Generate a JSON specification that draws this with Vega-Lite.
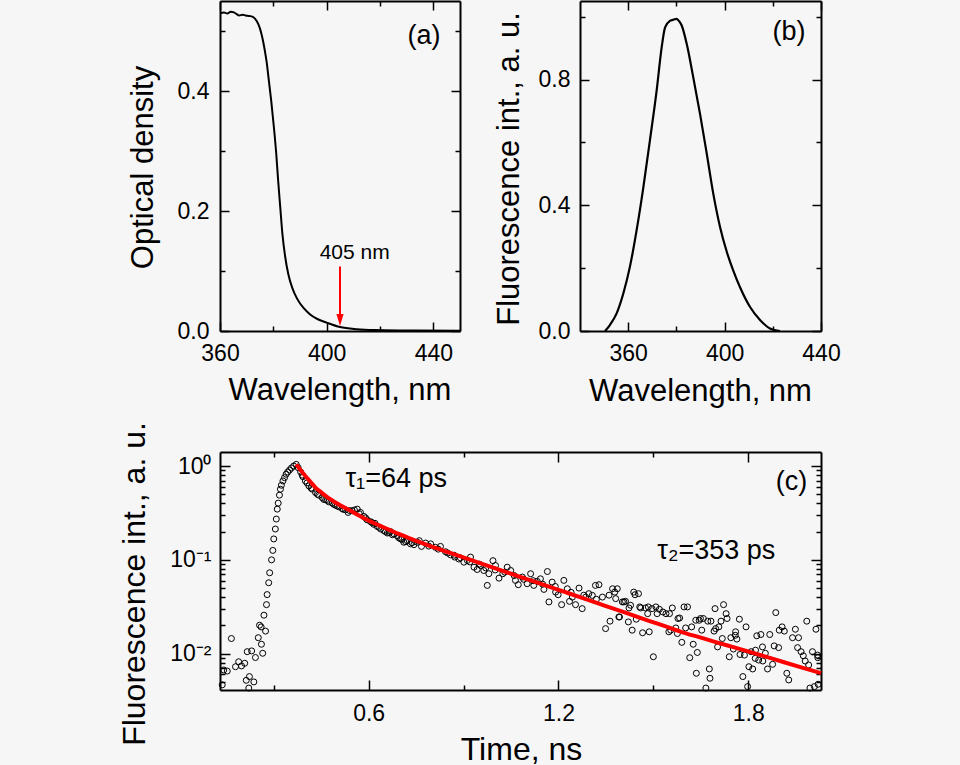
{
"$schema": "https://vega.github.io/schema/vega-lite/v6.json",
"autosize": {"type": "none"},
"padding": {"left": 220, "top": 1, "right": 740, "bottom": 764},
"background": "#f6f6f6",
"datasets": {
"abs": [{"wl":360,"od":0.530},{"wl":361.5,"od":0.531},{"wl":362.7,"od":0.529},{"wl":364,"od":0.532},{"wl":365.2,"od":0.531},{"wl":366.3,"od":0.528},{"wl":367.1,"od":0.526},{"wl":368.5,"od":0.527},{"wl":369.6,"od":0.526},{"wl":371,"od":0.525},{"wl":372.1,"od":0.524},{"wl":373,"od":0.521},{"wl":373.7,"od":0.517},{"wl":374.4,"od":0.511},{"wl":375.0,"od":0.504},{"wl":375.6,"od":0.494},{"wl":376.2,"od":0.482},{"wl":376.9,"od":0.465},{"wl":377.5,"od":0.448},{"wl":378.3,"od":0.418},{"wl":379.2,"od":0.384},{"wl":380.2,"od":0.340},{"wl":381.1,"od":0.295},{"wl":381.8,"od":0.251},{"wl":382.6,"od":0.206},{"wl":383.4,"od":0.162},{"wl":384.4,"od":0.125},{"wl":385.6,"od":0.095},{"wl":387.1,"od":0.072},{"wl":388.9,"od":0.054},{"wl":391.4,"od":0.038},{"wl":393.7,"od":0.028},{"wl":396.5,"od":0.020},{"wl":400,"od":0.014},{"wl":405,"od":0.0067},{"wl":411.3,"od":0.003},{"wl":418,"od":0.0015},{"wl":430,"od":0.0008},{"wl":450,"od":0.0003}],
"fl": [{"wl":350.4,"fi":0},{"wl":352.4,"fi":0.019},{"wl":355.2,"fi":0.056},{"wl":358.0,"fi":0.120},{"wl":360.7,"fi":0.204},{"wl":363.5,"fi":0.321},{"wl":366.3,"fi":0.458},{"wl":369.0,"fi":0.606},{"wl":371.8,"fi":0.765},{"wl":373.9,"fi":0.903},{"wl":375.3,"fi":0.966},{"wl":377.3,"fi":0.987},{"wl":378.5,"fi":0.99},{"wl":380.1,"fi":0.993},{"wl":381.2,"fi":0.985},{"wl":382.2,"fi":0.972},{"wl":384.3,"fi":0.913},{"wl":387.0,"fi":0.807},{"wl":389.8,"fi":0.691},{"wl":392.6,"fi":0.564},{"wl":395.3,"fi":0.437},{"wl":398.1,"fi":0.331},{"wl":400.9,"fi":0.252},{"wl":403.6,"fi":0.192},{"wl":406.4,"fi":0.139},{"wl":410.5,"fi":0.077},{"wl":414.7,"fi":0.035},{"wl":418.8,"fi":0.008},{"wl":423.0,"fi":0}],
"fit": [{"t":0.371,"v":1.04},{"t":0.385,"v":0.90},{"t":0.400,"v":0.783},{"t":0.416,"v":0.68},{"t":0.432,"v":0.589},{"t":0.448,"v":0.53},{"t":0.464,"v":0.481},{"t":0.480,"v":0.44},{"t":0.495,"v":0.408},{"t":0.516,"v":0.372},{"t":0.537,"v":0.341},{"t":0.563,"v":0.305},{"t":0.590,"v":0.272},{"t":0.616,"v":0.247},{"t":0.643,"v":0.225},{"t":0.669,"v":0.206},{"t":0.695,"v":0.189},{"t":0.722,"v":0.174},{"t":0.748,"v":0.160},{"t":0.800,"v":0.138},{"t":0.853,"v":0.120},{"t":0.906,"v":0.1042},{"t":0.959,"v":0.0906},{"t":1.012,"v":0.0787},{"t":1.064,"v":0.0685},{"t":1.117,"v":0.0596},{"t":1.170,"v":0.0518},{"t":1.222,"v":0.0452},{"t":1.275,"v":0.0393},{"t":1.33,"v":0.0339},{"t":1.381,"v":0.0296},{"t":1.434,"v":0.0258},{"t":1.486,"v":0.0224},{"t":1.539,"v":0.0195},{"t":1.592,"v":0.0169},{"t":1.645,"v":0.0150},{"t":1.697,"v":0.0133},{"t":1.750,"v":0.0118},{"t":1.802,"v":0.0105},{"t":1.855,"v":0.0093},{"t":1.908,"v":0.0082},{"t":1.97,"v":0.0071},{"t":2.03,"v":0.0062}],
"decay": [{"t":0.137,"v":0.00465},{"t":0.142,"v":0.0067},{"t":0.153,"v":0.00653},{"t":0.166,"v":0.0145},{"t":0.179,"v":0.00726},{"t":0.189,"v":0.0082},{"t":0.198,"v":0.0074},{"t":0.208,"v":0.0079},{"t":0.213,"v":0.0052},{"t":0.216,"v":0.0105},{"t":0.221,"v":0.0043},{"t":0.223,"v":0.0057},{"t":0.230,"v":0.0107},{"t":0.237,"v":0.0050},{"t":0.242,"v":0.0091},{"t":0.251,"v":0.0148},{"t":0.255,"v":0.0201},{"t":0.260,"v":0.0193},{"t":0.261,"v":0.0126},{"t":0.265,"v":0.0101},{"t":0.269,"v":0.0257},{"t":0.274,"v":0.0174},{"t":0.277,"v":0.0333},{"t":0.279,"v":0.0426},{"t":0.284,"v":0.057},{"t":0.287,"v":0.0728},{"t":0.293,"v":0.100},{"t":0.297,"v":0.126},{"t":0.300,"v":0.167},{"t":0.305,"v":0.213},{"t":0.308,"v":0.272},{"t":0.311,"v":0.347},{"t":0.314,"v":0.402},{"t":0.318,"v":0.489},{"t":0.321,"v":0.566},{"t":0.324,"v":0.624},{"t":0.329,"v":0.693},{"t":0.334,"v":0.751},{"t":0.339,"v":0.817},{"t":0.344,"v":0.863},{"t":0.350,"v":0.907},{"t":0.356,"v":0.953},{"t":0.363,"v":1.0},{"t":0.371,"v":1.04},
{"t":0.377,"v":0.96},{"t":0.385,"v":0.863},{"t":0.392,"v":0.77},{"t":0.400,"v":0.693},{"t":0.411,"v":0.614},{"t":0.422,"v":0.566},{"t":0.432,"v":0.521},{"t":0.442,"v":0.489},{"t":0.453,"v":0.461},{"t":0.464,"v":0.436},{"t":0.474,"v":0.415},{"t":0.485,"v":0.402},{"t":0.495,"v":0.383},{"t":0.506,"v":0.367},{"t":0.516,"v":0.352},{"t":0.527,"v":0.341},{"t":0.535,"v":0.32},{"t":0.548,"v":0.333},{"t":0.564,"v":0.347},{"t":0.574,"v":0.32},{"t":0.585,"v":0.29},{"t":0.595,"v":0.267},{"t":0.606,"v":0.255},{"t":0.616,"v":0.239},{"t":0.627,"v":0.227},{"t":0.638,"v":0.213},{"t":0.648,"v":0.205},{"t":0.659,"v":0.193},{"t":0.669,"v":0.2},{"t":0.680,"v":0.189},{"t":0.690,"v":0.181},{"t":0.701,"v":0.167},{"t":0.711,"v":0.154},{"t":0.722,"v":0.160},{"t":0.732,"v":0.148},{"t":0.743,"v":0.145},
{"t":0.39,"v":0.80},{"t":0.405,"v":0.66},{"t":0.418,"v":0.58},{"t":0.438,"v":0.50},{"t":0.458,"v":0.44},{"t":0.47,"v":0.43},{"t":0.49,"v":0.39},{"t":0.50,"v":0.375},{"t":0.52,"v":0.345},{"t":0.54,"v":0.335},{"t":0.555,"v":0.34},{"t":0.57,"v":0.31},{"t":0.59,"v":0.28},{"t":0.61,"v":0.25},{"t":0.62,"v":0.245},{"t":0.633,"v":0.222},{"t":0.653,"v":0.20},{"t":0.665,"v":0.195},{"t":0.675,"v":0.185},{"t":0.695,"v":0.172},{"t":0.705,"v":0.165},{"t":0.717,"v":0.156},{"t":0.737,"v":0.152},
{"t":0.754,"v":0.154},{"t":0.767,"v":0.139},{"t":0.780,"v":0.151},{"t":0.796,"v":0.148},{"t":0.811,"v":0.136},{"t":0.827,"v":0.139},{"t":0.843,"v":0.122},{"t":0.859,"v":0.113},{"t":0.872,"v":0.107},{"t":0.885,"v":0.102},{"t":0.901,"v":0.0944},{"t":0.912,"v":0.0984},{"t":0.922,"v":0.107},{"t":0.933,"v":0.0835},{"t":0.943,"v":0.0789},{"t":0.954,"v":0.087},{"t":0.964,"v":0.077},{"t":0.975,"v":0.0534},{"t":0.980,"v":0.0711},{"t":0.993,"v":0.098},{"t":1.001,"v":0.087},{"t":1.012,"v":0.0638},{"t":1.024,"v":0.0711},{"t":1.038,"v":0.0835},{"t":1.049,"v":0.077},{"t":1.064,"v":0.0604},{"t":1.073,"v":0.0543},{"t":1.086,"v":0.0655},{"t":1.101,"v":0.0557},{"t":1.112,"v":0.0711},{"t":1.122,"v":0.0534},{"t":1.133,"v":0.0589},{"t":1.143,"v":0.0628},{"t":1.154,"v":0.0484},{"t":1.165,"v":0.0751},{"t":1.170,"v":0.0356},{"t":1.180,"v":0.0579},{"t":1.191,"v":0.0453},{"t":1.199,"v":0.0425},{"t":1.210,"v":0.0333},{"t":1.217,"v":0.0604},{"t":1.228,"v":0.0492},{"t":1.235,"v":0.0361},{"t":1.244,"v":0.0401},{"t":1.254,"v":0.0333},{"t":1.265,"v":0.050},{"t":1.275,"v":0.0302},{"t":1.286,"v":0.0401},{"t":1.296,"v":0.0436},{"t":1.307,"v":0.0418},{"t":1.317,"v":0.0534},{"t":1.328,"v":0.0543},{"t":1.339,"v":0.0401},{"t":1.349,"v":0.0185},{"t":1.363,"v":0.0222},{"t":1.371,"v":0.0492},{"t":1.381,"v":0.0386},{"t":1.391,"v":0.0246},
{"t":0.76,"v":0.16},{"t":0.79,"v":0.14},{"t":0.82,"v":0.13},{"t":0.85,"v":0.118},{"t":0.87,"v":0.112},{"t":0.89,"v":0.105},{"t":0.92,"v":0.095},{"t":0.95,"v":0.09},{"t":0.97,"v":0.082},{"t":1.0,"v":0.078},{"t":1.03,"v":0.074},{"t":1.06,"v":0.068},{"t":1.09,"v":0.062},{"t":1.12,"v":0.06},{"t":1.15,"v":0.055},{"t":1.19,"v":0.052},{"t":1.24,"v":0.045},{"t":1.28,"v":0.042},{"t":1.32,"v":0.038},{"t":1.36,"v":0.042},
{"t":1.378,"v":0.0453},{"t":1.386,"v":0.0492},{"t":1.393,"v":0.0246},{"t":1.402,"v":0.0356},{"t":1.407,"v":0.0356},{"t":1.412,"v":0.0361},{"t":1.421,"v":0.0218},{"t":1.423,"v":0.0307},{"t":1.428,"v":0.0328},{"t":1.433,"v":0.0178},{"t":1.438,"v":0.0453},{"t":1.442,"v":0.0425},{"t":1.446,"v":0.0233},{"t":1.453,"v":0.0436},{"t":1.457,"v":0.0315},{"t":1.460,"v":0.0307},{"t":1.466,"v":0.0167},{"t":1.475,"v":0.0307},{"t":1.482,"v":0.0267},{"t":1.484,"v":0.0315},{"t":1.487,"v":0.0171},{"t":1.496,"v":0.0302},{"t":1.500,"v":0.00927},{"t":1.508,"v":0.0315},{"t":1.512,"v":0.0267},{"t":1.519,"v":0.0297},{"t":1.530,"v":0.0278},{"t":1.540,"v":0.0267},{"t":1.549,"v":0.0171},{"t":1.551,"v":0.0267},{"t":1.555,"v":0.0178},{"t":1.560,"v":0.0307},{"t":1.571,"v":0.0188},{"t":1.576,"v":0.0164},{"t":1.578,"v":0.0237},{"t":1.583,"v":0.024},{"t":1.590,"v":0.0132},{"t":1.597,"v":0.0315},{"t":1.602,"v":0.0188},{"t":1.608,"v":0.0315},{"t":1.615,"v":0.00906},{"t":1.621,"v":0.0193},{"t":1.626,"v":0.0126},{"t":1.634,"v":0.0227},{"t":1.636,"v":0.00618},{"t":1.639,"v":0.0103},{"t":1.645,"v":0.0227},{"t":1.649,"v":0.0237},{"t":1.653,"v":0.0178},{"t":1.658,"v":0.0237},{"t":1.666,"v":0.0043},{"t":1.672,"v":0.0222},{"t":1.677,"v":0.00687},{"t":1.679,"v":0.00547},{"t":1.682,"v":0.0222},{"t":1.692,"v":0.0174},{"t":1.695,"v":0.0302},{"t":1.697,"v":0.0185},{"t":1.703,"v":0.0118},{"t":1.707,"v":0.0193},{"t":1.714,"v":0.0222},{"t":1.718,"v":0.0145},{"t":1.722,"v":0.0333},{"t":1.730,"v":0.0267},{"t":1.733,"v":0.0237},{"t":1.740,"v":0.00927},{"t":1.745,"v":0.0148},{"t":1.753,"v":0.0112},{"t":1.759,"v":0.0157},{"t":1.760,"v":0.0171},{"t":1.764,"v":0.0143},{"t":1.772,"v":0.0233},{"t":1.774,"v":0.0098},{"t":1.783,"v":0.0057},{"t":1.788,"v":0.00966},{"t":1.793,"v":0.0193},{"t":1.798,"v":0.00446},{"t":1.802,"v":0.00726},{"t":1.809,"v":0.0105},{"t":1.814,"v":0.00687},{"t":1.822,"v":0.00891},{"t":1.823,"v":0.0109},{"t":1.827,"v":0.0155},{"t":1.833,"v":0.00855},{"t":1.840,"v":0.016},{"t":1.845,"v":0.0118},{"t":1.846,"v":0.00835},{"t":1.854,"v":0.0101},{"t":1.861,"v":0.00687},{"t":1.868,"v":0.016},{"t":1.877,"v":0.0077},{"t":1.882,"v":0.0121},{"t":1.887,"v":0.0274},{"t":1.896,"v":0.0116},{"t":1.898,"v":0.0178},{"t":1.907,"v":0.0193},{"t":1.914,"v":0.0174},{"t":1.922,"v":0.00618},{"t":1.928,"v":0.00525},{"t":1.940,"v":0.0148},{"t":1.949,"v":0.0182},{"t":1.956,"v":0.0116},{"t":1.959,"v":0.0148},{"t":1.967,"v":0.0105},{"t":1.974,"v":0.0095},{"t":1.980,"v":0.00835},{"t":1.985,"v":0.0222},{"t":1.991,"v":0.00757},{"t":1.995,"v":0.0043},{"t":2.003,"v":0.0105},{"t":2.009,"v":0.00446},{"t":2.014,"v":0.0182},{"t":2.019,"v":0.00966},{"t":2.021,"v":0.00472},{"t":2.02,"v":0.00906}]
},
"columns": 2,
"spacing": {"row": 121, "column": 120},
"bounds": "flush",
"align": "each",
"concat": [
{
"width": 240, "height": 330,
"resolve": {"axis": {"x": "independent", "y": "independent"}},
"layer": [
{"data": {"name": "abs"},
 "mark": {"type": "line", "color": "black", "strokeWidth": 2, "interpolate": "monotone", "clip": true},
 "encoding": {
  "x": {"field": "wl", "type": "quantitative", "scale": {"domain": [360, 450], "nice": false, "zero": false},
   "axis": {"orient": "bottom", "values": [360, 400, 440], "format": "d", "ticks": false, "labelPadding": 29, "labelBaseline": "alphabetic", "title": "Wavelength, nm", "titleX": 119.5, "titleY": 68, "titleBaseline": "alphabetic", "titleAlign": "center", "titleFontSize": 31}},
  "y": {"field": "od", "type": "quantitative", "scale": {"domain": [0, 0.55], "nice": false, "zero": false},
   "axis": {"orient": "left", "values": [0, 0.2, 0.4], "format": ".1f", "ticks": false, "labelPadding": 11, "title": "Optical density", "titleX": -68, "titleY": 166, "titleAngle": 270, "titleBaseline": "alphabetic", "titleAlign": "center", "titleFontSize": 31}}
 }},
{"data": {"name": "abs"},
 "mark": {"type": "line", "opacity": 0},
 "encoding": {
  "x": {"field": "wl", "type": "quantitative", "scale": {"domain": [360, 450], "nice": false, "zero": false},
   "axis": {"orient": "bottom", "values": [360, 380, 400, 420, 440], "labels": false, "domain": false, "title": null, "tickSize": {"condition": {"test": "datum.value % 40 == 0", "value": -9}, "value": -5}}},
  "y": {"field": "od", "type": "quantitative", "scale": {"domain": [0, 0.55], "nice": false, "zero": false},
   "axis": {"orient": "left", "values": [0, 0.1, 0.2, 0.3, 0.4, 0.5], "labels": false, "domain": false, "title": null, "tickSize": {"condition": {"test": "round(datum.value*10) % 2 == 0", "value": -9}, "value": -5}}}
 }},
{"data": {"name": "abs"},
 "mark": {"type": "line", "opacity": 0},
 "encoding": {
  "x": {"field": "wl", "type": "quantitative", "scale": {"domain": [360, 450], "nice": false, "zero": false},
   "axis": {"orient": "top", "values": [360, 380, 400, 420, 440], "labels": false, "title": null, "tickSize": {"condition": {"test": "datum.value % 40 == 0", "value": -9}, "value": -5}}},
  "y": {"field": "od", "type": "quantitative", "scale": {"domain": [0, 0.55], "nice": false, "zero": false},
   "axis": {"orient": "right", "values": [0, 0.1, 0.2, 0.3, 0.4, 0.5], "labels": false, "title": null, "tickSize": {"condition": {"test": "round(datum.value*10) % 2 == 0", "value": -9}, "value": -5}}}
 }},
{"data": {"values": [{"wl": 405, "y1": 0.1075, "y2": 0.02}]},
 "mark": {"type": "rule", "color": "#ff0000", "strokeWidth": 2},
 "encoding": {
  "x": {"field": "wl", "type": "quantitative", "axis": null},
  "y": {"field": "y1", "type": "quantitative", "axis": null},
  "y2": {"field": "y2"}
 }},
{"data": {"values": [{"wl": 405, "y": 0.0183}]},
 "mark": {"type": "point", "shape": "M-0.6,-1L0.6,-1L0,1Z", "filled": true, "color": "#ff0000", "size": 144, "opacity": 1},
 "encoding": {
  "x": {"field": "wl", "type": "quantitative", "axis": null},
  "y": {"field": "y", "type": "quantitative", "axis": null}
 }},
{"data": {"values": [{"wl": 410.5, "y": 0.1195, "label": "405 nm"}]},
 "mark": {"type": "text", "font": "Liberation Sans", "fontSize": 21, "color": "black", "align": "center", "baseline": "alphabetic"},
 "encoding": {
  "x": {"field": "wl", "type": "quantitative", "axis": null},
  "y": {"field": "y", "type": "quantitative", "axis": null},
  "text": {"field": "label"}
 }},
{"data": {"values": [{"wl": 436.5, "y": 0.4917, "label": "(a)"}]},
 "mark": {"type": "text", "font": "Liberation Sans", "fontSize": 27, "color": "black", "align": "center", "baseline": "middle"},
 "encoding": {
  "x": {"field": "wl", "type": "quantitative", "axis": null},
  "y": {"field": "y", "type": "quantitative", "axis": null},
  "text": {"field": "label"}
 }}
]
},
{
"width": 241, "height": 330,
"resolve": {"axis": {"x": "independent", "y": "independent"}},
"layer": [
{"data": {"name": "fl"},
 "mark": {"type": "line", "color": "black", "strokeWidth": 2.2, "interpolate": "monotone", "clip": true},
 "encoding": {
  "x": {"field": "wl", "type": "quantitative", "scale": {"domain": [340, 440], "nice": false, "zero": false},
   "axis": {"orient": "bottom", "values": [360, 400, 440], "format": "d", "ticks": false, "labelPadding": 29, "labelBaseline": "alphabetic", "title": "Wavelength, nm", "titleX": 120, "titleY": 69, "titleBaseline": "alphabetic", "titleAlign": "center", "titleFontSize": 31}},
  "y": {"field": "fi", "type": "quantitative", "scale": {"domain": [0, 1.05], "nice": false, "zero": false},
   "axis": {"orient": "left", "values": [0, 0.4, 0.8], "format": ".1f", "ticks": false, "labelPadding": 10, "title": "Fluorescence int., a. u.", "titleX": -62, "titleY": 167.5, "titleAngle": 270, "titleBaseline": "alphabetic", "titleAlign": "center", "titleFontSize": 31}}
 }},
{"data": {"name": "fl"},
 "mark": {"type": "line", "opacity": 0},
 "encoding": {
  "x": {"field": "wl", "type": "quantitative", "scale": {"domain": [340, 440], "nice": false, "zero": false},
   "axis": {"orient": "bottom", "values": [360, 380, 400, 420, 440], "labels": false, "domain": false, "title": null, "tickSize": {"condition": {"test": "datum.value % 40 == 0", "value": -9}, "value": -5}}},
  "y": {"field": "fi", "type": "quantitative", "scale": {"domain": [0, 1.05], "nice": false, "zero": false},
   "axis": {"orient": "left", "values": [0, 0.2, 0.4, 0.6, 0.8, 1.0], "labels": false, "domain": false, "title": null, "tickSize": {"condition": {"test": "round(datum.value*10) % 4 == 0", "value": -9}, "value": -5}}}
 }},
{"data": {"name": "fl"},
 "mark": {"type": "line", "opacity": 0},
 "encoding": {
  "x": {"field": "wl", "type": "quantitative", "scale": {"domain": [340, 440], "nice": false, "zero": false},
   "axis": {"orient": "top", "values": [360, 380, 400, 420, 440], "labels": false, "title": null, "tickSize": {"condition": {"test": "datum.value % 40 == 0", "value": -9}, "value": -5}}},
  "y": {"field": "fi", "type": "quantitative", "scale": {"domain": [0, 1.05], "nice": false, "zero": false},
   "axis": {"orient": "right", "values": [0, 0.2, 0.4, 0.6, 0.8, 1.0], "labels": false, "title": null, "tickSize": {"condition": {"test": "round(datum.value*10) % 4 == 0", "value": -9}, "value": -5}}}
 }},
{"data": {"values": [{"wl": 426.7, "y": 0.952, "label": "(b)"}]},
 "mark": {"type": "text", "font": "Liberation Sans", "fontSize": 27, "color": "black", "align": "center", "baseline": "middle"},
 "encoding": {
  "x": {"field": "wl", "type": "quantitative", "axis": null},
  "y": {"field": "y", "type": "quantitative", "axis": null},
  "text": {"field": "label"}
 }}
]
},
{
"width": 240, "height": 238,
"resolve": {"axis": {"x": "independent", "y": "independent"}},
"layer": [
{"data": {"name": "decay"},
 "mark": {"type": "point", "shape": "circle", "filled": false, "stroke": "black", "strokeWidth": 1, "size": 36, "opacity": 1},
 "encoding": {
  "x": {"field": "t", "type": "quantitative", "scale": {"domain": [0.13, 2.03], "nice": false, "zero": false, "range": [0, 601]},
   "axis": {"orient": "bottom", "values": [0.6, 1.2, 1.8], "format": ".1f", "ticks": false, "labelPadding": 30, "labelBaseline": "alphabetic", "title": "Time, ns", "titleX": 301, "titleY": 69, "titleBaseline": "alphabetic", "titleAlign": "center", "titleFontSize": 32}},
  "y": {"field": "v", "type": "quantitative", "scale": {"type": "log", "domain": [0.0041, 1.41], "nice": false},
   "axis": {"orient": "left", "values": [0.01, 0.1, 1], "labelExpr": "datum.value > 0.5 ? '10⁰' : (datum.value > 0.05 ? '10⁻¹' : '10⁻²')", "ticks": false, "labelPadding": 9, "title": "Fluorescence int., a. u.", "titleX": -76, "titleY": 131.5, "titleAngle": 270, "titleBaseline": "alphabetic", "titleAlign": "center", "titleFontSize": 32}}
 }},
{"data": {"name": "fit"},
 "mark": {"type": "line", "color": "#ff0000", "strokeWidth": 4, "interpolate": "monotone"},
 "encoding": {
  "x": {"field": "t", "type": "quantitative", "scale": {"domain": [0.13, 2.03], "nice": false, "zero": false, "range": [0, 601]}, "axis": null},
  "y": {"field": "v", "type": "quantitative", "scale": {"type": "log", "domain": [0.0041, 1.41], "nice": false}, "axis": null}
 }},
{"data": {"name": "fit"},
 "mark": {"type": "line", "opacity": 0},
 "encoding": {
  "x": {"field": "t", "type": "quantitative", "scale": {"domain": [0.13, 2.03], "nice": false, "zero": false, "range": [0, 601]},
   "axis": {"orient": "bottom", "values": [0.3, 0.6, 0.9, 1.2, 1.5, 1.8], "labels": false, "domain": false, "title": null, "tickSize": {"condition": {"test": "abs(datum.value/0.6 - round(datum.value/0.6)) < 0.01", "value": -10}, "value": -5}}},
  "y": {"field": "v", "type": "quantitative", "scale": {"type": "log", "domain": [0.0041, 1.41], "nice": false},
   "axis": {"orient": "left", "values": [0.005, 0.006, 0.007, 0.008, 0.009, 0.01, 0.02, 0.03, 0.04, 0.05, 0.06, 0.07, 0.08, 0.09, 0.1, 0.2, 0.3, 0.4, 0.5, 0.6, 0.7, 0.8, 0.9, 1], "labels": false, "domain": false, "title": null, "tickSize": {"condition": {"test": "abs(log(datum.value)/LN10 - round(log(datum.value)/LN10)) < 0.01", "value": -10}, "value": -5}}}
 }},
{"data": {"name": "fit"},
 "mark": {"type": "line", "opacity": 0},
 "encoding": {
  "x": {"field": "t", "type": "quantitative", "scale": {"domain": [0.13, 2.03], "nice": false, "zero": false, "range": [0, 601]},
   "axis": {"orient": "top", "values": [0.3, 0.6, 0.9, 1.2, 1.5, 1.8], "labels": false, "title": null, "tickSize": {"condition": {"test": "abs(datum.value/0.6 - round(datum.value/0.6)) < 0.01", "value": -10}, "value": -5}}},
  "y": {"field": "v", "type": "quantitative", "scale": {"type": "log", "domain": [0.0041, 1.41], "nice": false},
   "axis": {"orient": "right", "offset": 361, "values": [0.005, 0.006, 0.007, 0.008, 0.009, 0.01, 0.02, 0.03, 0.04, 0.05, 0.06, 0.07, 0.08, 0.09, 0.1, 0.2, 0.3, 0.4, 0.5, 0.6, 0.7, 0.8, 0.9, 1], "labels": false, "title": null, "tickSize": {"condition": {"test": "abs(log(datum.value)/LN10 - round(log(datum.value)/LN10)) < 0.01", "value": -10}, "value": -5}}}
 }},
{"data": {"values": [{"t": 0.687, "v": 0.723, "label": "τ₁=64 ps"}, {"t": 1.699, "v": 0.123, "label": "τ₂=353 ps"}, {"t": 1.937, "v": 0.668, "label": "(c)"}]},
 "mark": {"type": "text", "font": "Liberation Sans", "fontSize": 27, "color": "black", "align": "center", "baseline": "middle"},
 "encoding": {
  "x": {"field": "t", "type": "quantitative", "scale": {"domain": [0.13, 2.03], "nice": false, "zero": false, "range": [0, 601]}, "axis": null},
  "y": {"field": "v", "type": "quantitative", "scale": {"type": "log", "domain": [0.0041, 1.41], "nice": false}, "axis": null},
  "text": {"field": "label"}
 }}
]
}
],
"config": {
 "view": {"stroke": null},
 "axis": {"domainColor": "black", "domainWidth": 2, "tickColor": "black", "tickWidth": 1.5, "labelFont": "Liberation Sans", "labelFontSize": 23, "labelColor": "black", "titleFont": "Liberation Sans", "titleColor": "black", "titleFontWeight": "normal", "grid": false, "labelFlush": false, "labelOverlap": false, "labelBound": false}
}
}
